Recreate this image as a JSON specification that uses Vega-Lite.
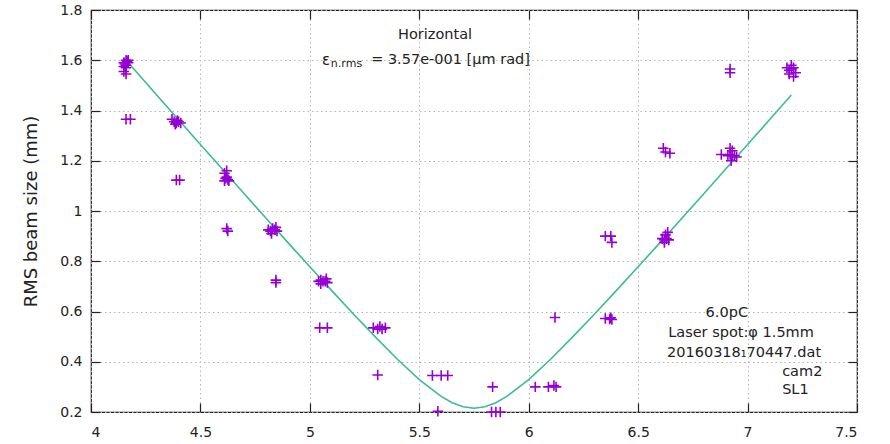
{
  "$schema": "https://vega.github.io/schema/vega-lite/v6.json",
  "autosize": "none",
  "width": 766,
  "height": 402,
  "padding": {"left": 91, "top": 10, "right": 33, "bottom": 32},
  "background": "white",
  "config": {
    "font": "DejaVu Sans",
    "view": {"stroke": "#222", "strokeWidth": 1.2},
    "axis": {"labelFont": "DejaVu Sans", "titleFont": "DejaVu Sans", "labelColor": "#222", "titleColor": "#222", "domain": false}
  },
  "datasets": {
    "pts": [
      {"x": 4.15, "y": 1.59}, {"x": 4.16, "y": 1.6}, {"x": 4.17, "y": 1.59}, {"x": 4.16, "y": 1.58}, {"x": 4.15, "y": 1.575},
      {"x": 4.17, "y": 1.6}, {"x": 4.16, "y": 1.57}, {"x": 4.155, "y": 1.585}, {"x": 4.165, "y": 1.595}, {"x": 4.15, "y": 1.555},
      {"x": 4.16, "y": 1.545}, {"x": 4.16, "y": 1.365}, {"x": 4.18, "y": 1.365},
      {"x": 4.37, "y": 1.365}, {"x": 4.38, "y": 1.355}, {"x": 4.39, "y": 1.35}, {"x": 4.4, "y": 1.355}, {"x": 4.41, "y": 1.35},
      {"x": 4.385, "y": 1.345}, {"x": 4.395, "y": 1.36}, {"x": 4.39, "y": 1.123}, {"x": 4.405, "y": 1.123},
      {"x": 4.61, "y": 1.15}, {"x": 4.62, "y": 1.16}, {"x": 4.615, "y": 1.13}, {"x": 4.625, "y": 1.125}, {"x": 4.62, "y": 1.135},
      {"x": 4.63, "y": 1.12}, {"x": 4.61, "y": 1.12}, {"x": 4.62, "y": 0.93}, {"x": 4.625, "y": 0.92},
      {"x": 4.81, "y": 0.925}, {"x": 4.82, "y": 0.92}, {"x": 4.83, "y": 0.93}, {"x": 4.84, "y": 0.925}, {"x": 4.85, "y": 0.92},
      {"x": 4.825, "y": 0.91}, {"x": 4.845, "y": 0.935}, {"x": 4.845, "y": 0.725}, {"x": 4.845, "y": 0.715},
      {"x": 5.04, "y": 0.72}, {"x": 5.05, "y": 0.725}, {"x": 5.06, "y": 0.72}, {"x": 5.07, "y": 0.72}, {"x": 5.08, "y": 0.715},
      {"x": 5.05, "y": 0.71}, {"x": 5.075, "y": 0.73}, {"x": 5.045, "y": 0.535}, {"x": 5.08, "y": 0.535},
      {"x": 5.29, "y": 0.535}, {"x": 5.31, "y": 0.53}, {"x": 5.33, "y": 0.53}, {"x": 5.345, "y": 0.535}, {"x": 5.32, "y": 0.54},
      {"x": 5.31, "y": 0.347},
      {"x": 5.56, "y": 0.345}, {"x": 5.6, "y": 0.345}, {"x": 5.63, "y": 0.345}, {"x": 5.585, "y": 0.203},
      {"x": 5.83, "y": 0.2}, {"x": 5.85, "y": 0.2}, {"x": 5.87, "y": 0.2}, {"x": 5.835, "y": 0.3},
      {"x": 6.03, "y": 0.3}, {"x": 6.09, "y": 0.3}, {"x": 6.115, "y": 0.305}, {"x": 6.125, "y": 0.3}, {"x": 6.12, "y": 0.576},
      {"x": 6.35, "y": 0.572}, {"x": 6.37, "y": 0.57}, {"x": 6.38, "y": 0.568}, {"x": 6.375, "y": 0.575},
      {"x": 6.35, "y": 0.9}, {"x": 6.375, "y": 0.9}, {"x": 6.38, "y": 0.875},
      {"x": 6.61, "y": 0.89}, {"x": 6.62, "y": 0.885}, {"x": 6.63, "y": 0.89}, {"x": 6.64, "y": 0.885}, {"x": 6.625, "y": 0.905},
      {"x": 6.635, "y": 0.915}, {"x": 6.62, "y": 0.875}, {"x": 6.615, "y": 1.25}, {"x": 6.625, "y": 1.235}, {"x": 6.645, "y": 1.23},
      {"x": 6.88, "y": 1.225}, {"x": 6.91, "y": 1.22}, {"x": 6.92, "y": 1.225}, {"x": 6.93, "y": 1.22}, {"x": 6.94, "y": 1.22},
      {"x": 6.95, "y": 1.215}, {"x": 6.92, "y": 1.25}, {"x": 6.93, "y": 1.24}, {"x": 6.925, "y": 1.2},
      {"x": 6.92, "y": 1.565}, {"x": 6.92, "y": 1.55},
      {"x": 7.18, "y": 1.57}, {"x": 7.19, "y": 1.56}, {"x": 7.2, "y": 1.565}, {"x": 7.21, "y": 1.57}, {"x": 7.22, "y": 1.55},
      {"x": 7.19, "y": 1.545}, {"x": 7.21, "y": 1.535}, {"x": 7.2, "y": 1.58}
    ],
    "fit": [
      {"x": 4.15, "y": 1.61}, {"x": 4.2, "y": 1.561}, {"x": 4.3, "y": 1.462}, {"x": 4.4, "y": 1.363}, {"x": 4.5, "y": 1.265},
      {"x": 4.6, "y": 1.167}, {"x": 4.7, "y": 1.069}, {"x": 4.8, "y": 0.971}, {"x": 4.9, "y": 0.874}, {"x": 5.0, "y": 0.778},
      {"x": 5.1, "y": 0.683}, {"x": 5.2, "y": 0.589}, {"x": 5.3, "y": 0.498}, {"x": 5.4, "y": 0.41}, {"x": 5.5, "y": 0.329},
      {"x": 5.6, "y": 0.262}, {"x": 5.65, "y": 0.237}, {"x": 5.7, "y": 0.221}, {"x": 5.75, "y": 0.215}, {"x": 5.8, "y": 0.221},
      {"x": 5.85, "y": 0.237}, {"x": 5.9, "y": 0.262}, {"x": 6.0, "y": 0.329}, {"x": 6.1, "y": 0.41}, {"x": 6.2, "y": 0.498},
      {"x": 6.3, "y": 0.589}, {"x": 6.4, "y": 0.683}, {"x": 6.5, "y": 0.778}, {"x": 6.6, "y": 0.874}, {"x": 6.7, "y": 0.971},
      {"x": 6.8, "y": 1.069}, {"x": 6.9, "y": 1.167}, {"x": 7.0, "y": 1.265}, {"x": 7.1, "y": 1.363}, {"x": 7.2, "y": 1.462}
    ]
  },
  "resolve": {"axis": {"x": "independent", "y": "independent"}},
  "layer": [
    {
      "data": {"name": "fit"},
      "mark": {"type": "line", "color": "#3dba9a", "strokeWidth": 1.6, "clip": true},
      "encoding": {
        "x": {"field": "x", "type": "quantitative", "scale": {"domain": [4, 7.5], "nice": false, "zero": false},
              "axis": {"orient": "bottom", "values": [4, 4.5, 5, 5.5, 6, 6.5, 7, 7.5], "format": "~g", "title": null,
                       "labelFontSize": 14, "labelPadding": 22, "tickSize": -9, "tickColor": "#222", "tickWidth": 1.2,
                       "grid": true, "gridColor": "#b4b4b4", "gridDash": [1.5, 3], "gridWidth": 1}},
        "y": {"field": "y", "type": "quantitative", "scale": {"domain": [0.2, 1.8], "nice": false, "zero": false},
              "axis": {"orient": "left", "values": [0.2, 0.4, 0.6, 0.8, 1, 1.2, 1.4, 1.6, 1.8], "format": "~g",
                       "title": "RMS beam size (mm)", "titleFontSize": 18, "titleFontWeight": "normal", "titlePadding": 19,
                       "labelFontSize": 14, "labelPadding": 18, "tickSize": -9, "tickColor": "#222", "tickWidth": 1.2,
                       "grid": true, "gridColor": "#b4b4b4", "gridDash": [1.5, 3], "gridWidth": 1}}
      }
    },
    {
      "data": {"name": "pts"},
      "mark": {"type": "point", "shape": "M-1,0L1,0M0,-1L0,1", "filled": false, "color": "#9400d3", "strokeWidth": 1.6, "size": 110, "opacity": 1},
      "encoding": {
        "x": {"field": "x", "type": "quantitative",
              "axis": {"orient": "top", "values": [4, 4.5, 5, 5.5, 6, 6.5, 7, 7.5], "labels": false, "title": null, "grid": false,
                       "tickSize": -9, "tickColor": "#222", "tickWidth": 1.2}},
        "y": {"field": "y", "type": "quantitative",
              "axis": {"orient": "right", "values": [0.2, 0.4, 0.6, 0.8, 1, 1.2, 1.4, 1.6, 1.8], "labels": false, "title": null, "grid": false,
                       "tickSize": -9, "tickColor": "#222", "tickWidth": 1.2}}
      }
    },
    {
      "data": {"values": [{"t": "Horizontal", "x": 5.572, "y": 1.70}]},
      "mark": {"type": "text", "align": "center", "baseline": "middle", "fontSize": 14.5, "color": "#222"},
      "encoding": {"x": {"field": "x", "type": "quantitative", "axis": null}, "y": {"field": "y", "type": "quantitative", "axis": null}, "text": {"field": "t"}}
    },
    {
      "data": {"values": [{"t": "ε", "x": 5.055, "y": 1.601}]},
      "mark": {"type": "text", "align": "left", "baseline": "middle", "fontSize": 15, "color": "#222"},
      "encoding": {"x": {"field": "x", "type": "quantitative", "axis": null}, "y": {"field": "y", "type": "quantitative", "axis": null}, "text": {"field": "t"}}
    },
    {
      "data": {"values": [{"t": "n.rms", "x": 5.096, "y": 1.601}]},
      "mark": {"type": "text", "align": "left", "baseline": "middle", "fontSize": 11, "dy": 4, "color": "#222"},
      "encoding": {"x": {"field": "x", "type": "quantitative", "axis": null}, "y": {"field": "y", "type": "quantitative", "axis": null}, "text": {"field": "t"}}
    },
    {
      "data": {"values": [{"t": "= 3.57e-001 [μm rad]", "x": 5.28, "y": 1.601}]},
      "mark": {"type": "text", "align": "left", "baseline": "middle", "fontSize": 14.5, "color": "#222"},
      "encoding": {"x": {"field": "x", "type": "quantitative", "axis": null}, "y": {"field": "y", "type": "quantitative", "axis": null}, "text": {"field": "t"}}
    },
    {
      "data": {"values": [{"t": "6.0pC", "x": 7.002, "y": 0.595}]},
      "mark": {"type": "text", "align": "right", "baseline": "middle", "fontSize": 14.5, "color": "#222"},
      "encoding": {"x": {"field": "x", "type": "quantitative", "axis": null}, "y": {"field": "y", "type": "quantitative", "axis": null}, "text": {"field": "t"}}
    },
    {
      "data": {"values": [{"t": "Laser spot:φ 1.5mm", "x": 6.97, "y": 0.513}, {"t": "20160318₁70447.dat", "x": 6.984, "y": 0.436}]},
      "mark": {"type": "text", "align": "center", "baseline": "middle", "fontSize": 14.5, "color": "#222"},
      "encoding": {"x": {"field": "x", "type": "quantitative", "axis": null}, "y": {"field": "y", "type": "quantitative", "axis": null}, "text": {"field": "t"}}
    },
    {
      "data": {"values": [{"t": "cam2", "x": 7.158, "y": 0.36}, {"t": "SL1", "x": 7.158, "y": 0.288}]},
      "mark": {"type": "text", "align": "left", "baseline": "middle", "fontSize": 14.5, "color": "#222"},
      "encoding": {"x": {"field": "x", "type": "quantitative", "axis": null}, "y": {"field": "y", "type": "quantitative", "axis": null}, "text": {"field": "t"}}
    }
  ]
}
